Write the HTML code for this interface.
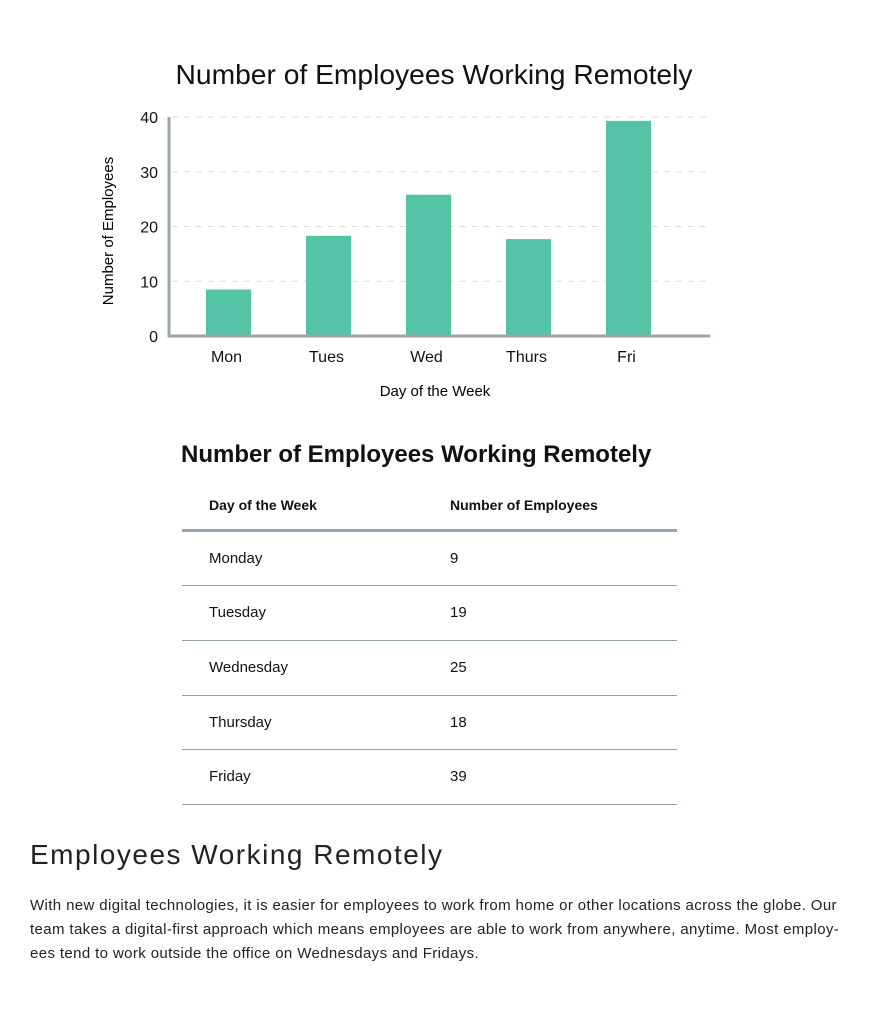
<!DOCTYPE html>
<html><head><meta charset="utf-8"><style>
body{margin:0;width:896px;height:1033px;background:#fff;font-family:"Liberation Sans",sans-serif;color:#111;position:relative;overflow:hidden}
.abs{position:absolute}
table{border-collapse:collapse}
</style></head><body>
<svg class="abs" style="left:0;top:0" width="896" height="420" id="chart">
<text x="434" y="84" text-anchor="middle" font-size="28" textLength="517" lengthAdjust="spacingAndGlyphs" fill="#111">Number of Employees Working Remotely</text>
<text transform="translate(113,231) rotate(-90)" text-anchor="middle" font-size="15">Number of Employees</text>
<text x="435" y="396" text-anchor="middle" font-size="15">Day of the Week</text>
<g id="grid"></g><g id="bars"></g><g id="labels"></g>
<line x1="169" y1="117" x2="169" y2="337" stroke="#9aa4ab" stroke-width="3"/>
<line x1="168" y1="336" x2="710" y2="336" stroke="#9aa4ab" stroke-width="3"/>
</svg>
<script>
const categories=["Mon","Tues","Wed","Thurs","Fri"];
const values=[8.5,18.3,25.8,17.7,39.3];
const yTicks=[0,10,20,30,40];
const NS="http://www.w3.org/2000/svg";
const y=v=>336-v*(219/40);
const x=i=>228.5+100*i;
function mk(t,a,p){const e=document.createElementNS(NS,t);for(const k in a)e.setAttribute(k,a[k]);document.getElementById(p).appendChild(e);return e;}
yTicks.forEach(t=>{
 if(t>0){const g=mk("line",{x1:172,x2:710,y1:y(t),y2:y(t),stroke:"#ddd","stroke-dasharray":"6,6"},"grid");
 
 }
 const l=mk("text",{x:158,y:y(t)+6,"text-anchor":"end","font-size":"16",fill:"#111"},"labels");l.textContent=t;
 
 
});
categories.forEach((c,i)=>{
 const b=mk("rect",{x:x(i)-22.5,width:45,y:y(values[i]),height:336-y(values[i]),fill:"#55c3a6"},"bars");
 
 
 const l=mk("text",{x:x(i)-2,y:362,"text-anchor":"middle","font-size":"16",fill:"#111"},"labels");l.textContent=c;
 
 
});
</script>
<div class="abs" style="left:181px;top:441px;font-size:24px;font-weight:bold">Number of Employees Working Remotely</div>
<table class="abs" style="left:182px;top:482px;width:495px;font-size:15px">
<tr style="height:48px;border-bottom:3px solid #9aa4ab;font-weight:bold;font-size:14px"><td style="padding-left:27px;width:239px">Day of the Week</td><td>Number of Employees</td></tr>
<tr style="height:55px;border-bottom:1px solid #8fa3ab"><td style="padding-left:27px">Monday</td><td>9</td></tr>
<tr style="height:55px;border-bottom:1px solid #8fa3ab"><td style="padding-left:27px">Tuesday</td><td>19</td></tr>
<tr style="height:55px;border-bottom:1px solid #8fa3ab"><td style="padding-left:27px">Wednesday</td><td>25</td></tr>
<tr style="height:54px;border-bottom:1px solid #8fa3ab"><td style="padding-left:27px">Thursday</td><td>18</td></tr>
<tr style="height:55px;border-bottom:1px solid #8fa3ab"><td style="padding-left:27px">Friday</td><td>39</td></tr>
</table>
<div class="abs" style="left:30px;top:839px;font-size:28px;letter-spacing:1.5px;color:#222">Employees Working Remotely</div>
<p class="abs" style="left:30px;top:894px;margin:0;width:840px;font-size:15px;letter-spacing:0.38px;line-height:24px;color:#222;white-space:nowrap">With new digital technologies, it is easier for employees to work from home or other locations across the globe. Our<br>team takes a digital-first approach which means employees are able to work from anywhere, anytime. Most employ-<br>ees tend to work outside the office on Wednesdays and Fridays.</p>
</body></html>
